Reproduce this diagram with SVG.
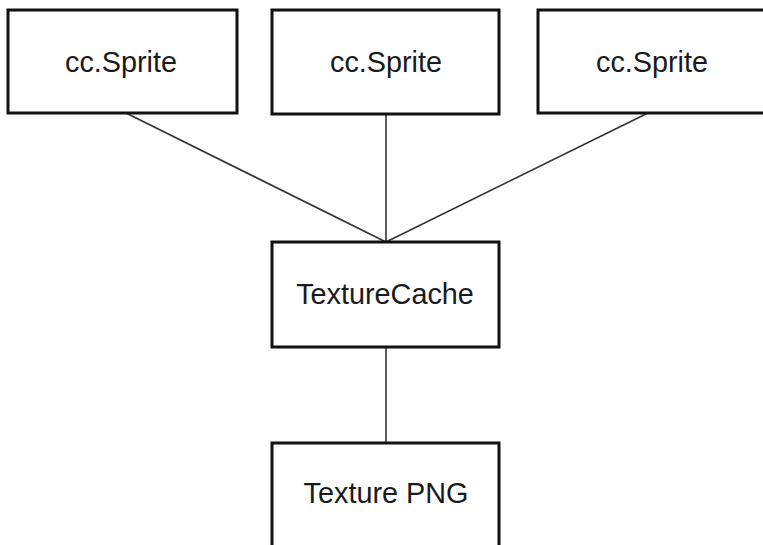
<svg xmlns="http://www.w3.org/2000/svg" width="763" height="545" viewBox="0 0 763 545">
  <style>
    .box { fill: #ffffff; stroke: #111111; stroke-width: 3; }
    .label { font-family: "Liberation Sans", Arial, sans-serif; font-size: 28.8px; fill: #1a1a1a; text-anchor: middle; }
    .link { stroke: #333333; stroke-width: 1.6; fill: none; }
  </style>
  <rect x="0" y="0" width="763" height="545" fill="#ffffff"/>

  <!-- links between nodes -->
  <g id="connectors">
    <line class="link" x1="126" y1="113" x2="386" y2="242"/>
    <line class="link" x1="386" y1="114" x2="386" y2="242"/>
    <line class="link" x1="648" y1="113" x2="386" y2="242"/>
    <line class="link" x1="386" y1="347" x2="386" y2="443"/>
  </g>

  <g id="sprite-left">
    <rect class="box" x="8" y="10" width="229" height="103"/>
    <text class="label" x="121" y="72">cc.Sprite</text>
  </g>

  <g id="sprite-middle">
    <rect class="box" x="272" y="10" width="227" height="104"/>
    <text class="label" x="386" y="72">cc.Sprite</text>
  </g>

  <g id="sprite-right">
    <rect class="box" x="538" y="10" width="229" height="103"/>
    <text class="label" x="652" y="72">cc.Sprite</text>
  </g>

  <g id="texture-cache">
    <rect class="box" x="272" y="242" width="227" height="105"/>
    <text class="label" x="385" y="304">TextureCache</text>
  </g>

  <g id="texture-png">
    <rect class="box" x="272" y="443" width="227" height="110"/>
    <text class="label" x="386" y="503">Texture PNG</text>
  </g>
</svg>
